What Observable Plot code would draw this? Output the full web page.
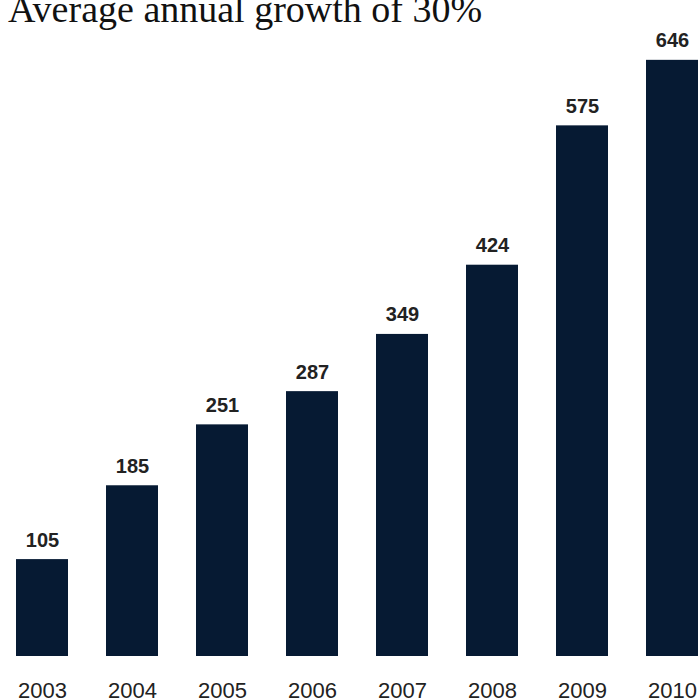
<!DOCTYPE html>
<html>
<head>
<meta charset="utf-8">
<script src="https://cdn.jsdelivr.net/npm/d3@7"></script>
<script src="https://cdn.jsdelivr.net/npm/@observablehq/plot@0.6"></script>
<style>
  html, body { margin: 0; padding: 0; background: #fff; overflow: hidden; }
  #wrap { position: relative; width: 698px; height: 698px; overflow: hidden; }
  #title { position: absolute; left: 8px; top: -13px; font-family: "Liberation Serif", "Times New Roman", serif; font-size: 38px; line-height: 44px; color: #111; white-space: nowrap; }
  #chart { position: absolute; left: 0; top: 0; }
</style>
</head>
<body>
<div id="wrap">
  <div id="chart"></div>
  <div id="title">Average annual growth of 30%</div>
</div>
<script>
const title = "Average annual growth of 30%";
const years = ["2003", "2004", "2005", "2006", "2007", "2008", "2009", "2010"];
const values = [105, 185, 251, 287, 349, 424, 575, 646];

const data = years.map((year, i) => ({year, value: values[i]}));

const chart = Plot.plot({
  width: 698,
  height: 698,
  marginTop: 0,
  marginBottom: 0,
  marginLeft: 0,
  marginRight: 0,
  style: {background: "transparent", fontFamily: "Liberation Sans, Arial, sans-serif"},
  x: {domain: years, range: [-23.4, 737.4], paddingInner: 0.425, paddingOuter: 0.425, axis: null},
  y: {domain: [0, 700], range: [656, 10], axis: null},
  marks: [
    Plot.barY(data, {x: "year", y: "value", fill: "#061a33"}),
    Plot.text(data, {x: "year", y: "value", text: d => String(d.value), lineAnchor: "bottom", dy: -13, fontSize: 20, fontWeight: "bold", fill: "#222"}),
    Plot.axisX({tickSize: 0, tickPadding: 0, fontSize: 22, dy: -16, fill: "#222", label: null})
  ]
});
document.getElementById("chart").appendChild(chart);
document.getElementById("title").textContent = title;
</script>
</body>
</html>
